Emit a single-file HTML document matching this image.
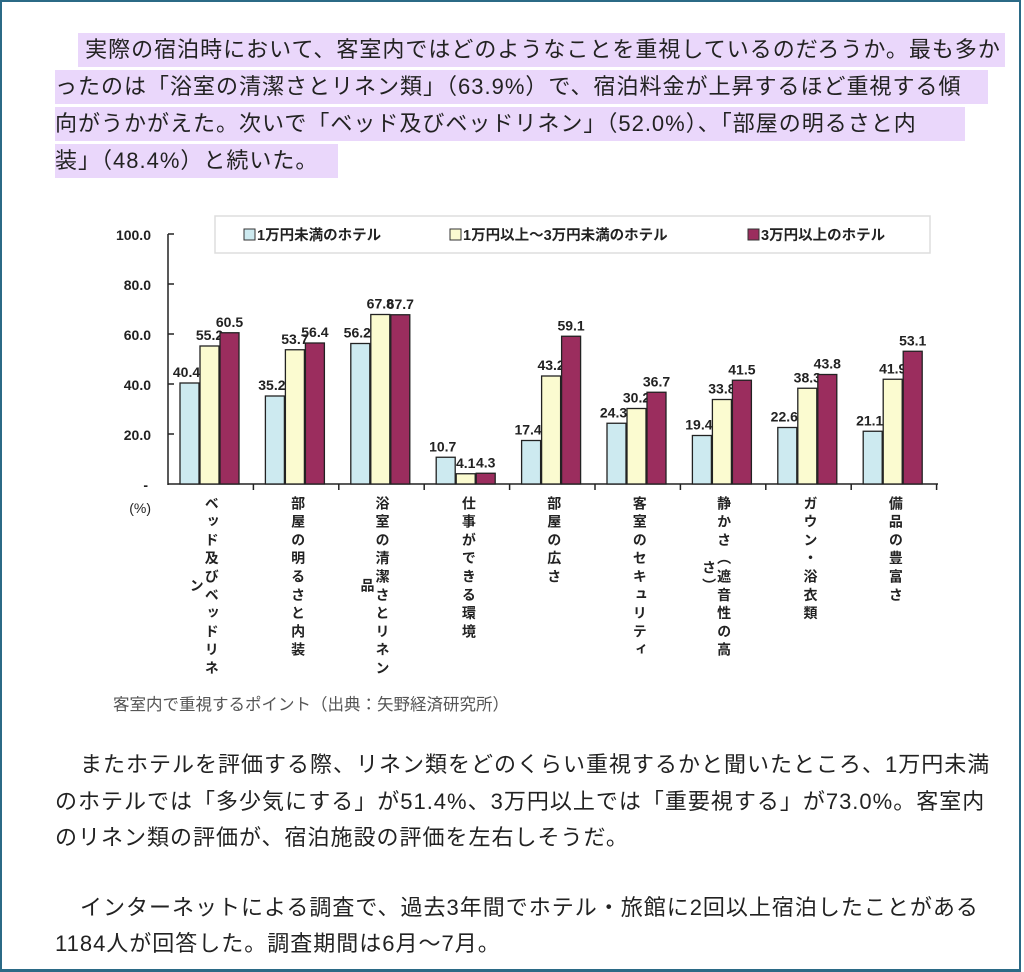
<!DOCTYPE html>
<html><head><meta charset="utf-8">
<style>
body{margin:0;width:1024px;height:972px;background:#fff;overflow:hidden;position:relative;font-family:"Liberation Sans","Noto Sans CJK JP",sans-serif;}
.frame{position:absolute;left:0;top:0;width:1017px;height:967px;border:2px solid #2b6a86;border-bottom-width:3px;}
.ln{position:absolute;font-size:22px;letter-spacing:1px;line-height:34px;height:34px;color:#222;white-space:nowrap;}
.hl{background:#ead7fb;}
.cap{position:absolute;left:113px;top:691px;font-size:16.5px;color:#555;white-space:nowrap;}
.vl{position:absolute;top:496px;writing-mode:vertical-rl;text-align:center;font-size:14px;line-height:15px;letter-spacing:4.3px;font-weight:bold;color:#222;white-space:nowrap;}
</style></head><body>
<div class="frame"></div>
<div class="ln hl" style="left:78px;top:33px;width:927px;">&nbsp;実際の宿泊時において、客室内ではどのようなことを重視しているのだろうか。最も多か</div>
<div class="ln hl" style="left:55px;top:70px;width:933px;">ったのは「浴室の清潔さとリネン類」（63.9%）で、宿泊料金が上昇するほど重視する傾</div>
<div class="ln hl" style="left:55px;top:107px;width:910px;">向がうかがえた。次いで「ベッド及びベッドリネン」（52.0%）、「部屋の明るさと内</div>
<div class="ln hl" style="left:55px;top:144px;width:283px;">装」（48.4%）と続いた。</div>

<svg style="position:absolute;left:0;top:0" width="1024" height="972" font-family="Liberation Sans, Noto Sans CJK JP, sans-serif">
<rect x="215" y="216" width="715" height="37" fill="#fff" stroke="#ddd" stroke-width="1.5"/>
<g font-size="14.5" fill="#222" font-weight="bold">
<rect x="244" y="229" width="11" height="11" fill="#cdeaf0" stroke="#333"/><text x="257" y="240">1万円未満のホテル</text>
<rect x="450" y="229" width="11" height="11" fill="#fbfbd0" stroke="#333"/><text x="463" y="240">1万円以上～3万円未満のホテル</text>
<rect x="748" y="229" width="11" height="11" fill="#9b2d5e" stroke="#333"/><text x="761" y="240">3万円以上のホテル</text>
</g>
<g font-size="14" fill="#222" text-anchor="end" font-weight="bold">
<text x="151" y="240">100.0</text><text x="151" y="290">80.0</text><text x="151" y="340">60.0</text>
<text x="151" y="390">40.0</text><text x="151" y="440">20.0</text><text x="148" y="490">-</text>
<text x="151" y="513" font-weight="normal">(%)</text>
</g>
<g stroke="#222" stroke-width="1.5">
<line x1="168" y1="234" x2="168" y2="485"/><line x1="168" y1="484" x2="938" y2="484"/>
<line x1="168" y1="234" x2="174" y2="234"/><line x1="168" y1="284" x2="174" y2="284"/>
<line x1="168" y1="334" x2="174" y2="334"/><line x1="168" y1="384" x2="174" y2="384"/>
<line x1="168" y1="434" x2="174" y2="434"/>
</g>
<g id="bars"></g>
</svg>
<div id="labels"></div>
<div class="cap">客室内で重視するポイント（出典：矢野経済研究所）</div>

<div class="ln" style="left:80px;top:748px;">またホテルを評価する際、リネン類をどのくらい重視するかと聞いたところ、1万円未満</div>
<div class="ln" style="left:55px;top:785px;">のホテルでは「多少気にする」が51.4%、3万円以上では「重要視する」が73.0%。客室内</div>
<div class="ln" style="left:55px;top:821px;">のリネン類の評価が、宿泊施設の評価を左右しそうだ。</div>
<div class="ln" style="left:80px;top:891px;">インターネットによる調査で、過去3年間でホテル・旅館に2回以上宿泊したことがある</div>
<div class="ln" style="left:55px;top:927px;">1184人が回答した。調査期間は6月～7月。</div>

<script>
var d=[[40.4,55.2,60.5],[35.2,53.7,56.4],[56.2,67.8,67.7],[10.7,4.1,4.3],[17.4,43.2,59.1],[24.3,30.2,36.7],[19.4,33.8,41.5],[22.6,38.3,43.8],[21.1,41.9,53.1]];
var lab=[["ベッド及びベッドリネ","ン"],["部屋の明るさと内装"],["浴室の清潔さとリネン","品"],["仕事ができる環境"],["部屋の広さ"],["客室のセキュリティ"],["静かさ（遮音性の高","さ）"],["ガウン・浴衣類"],["備品の豊富さ"]];
var col=["#cdeaf0","#fbfbd0","#9b2d5e"];
var s="",gw=85.4;
for(var g=0;g<9;g++){
 var x0=168+g*gw;
 s+='<line x1="'+(x0+gw)+'" y1="484" x2="'+(x0+gw)+'" y2="490" stroke="#222" stroke-width="1.5"/>';
 for(var i=0;i<3;i++){
  var v=d[g][i],h=v*2.5,x=x0+12+i*20;
  s+='<rect x="'+x+'" y="'+(484-h)+'" width="19" height="'+h+'" fill="'+col[i]+'" stroke="#222" stroke-width="1.3"/>';
  s+='<text x="'+(x+9.5+(i==0?-3:0))+'" y="'+(484-h-6)+'" font-size="14" font-weight="bold" text-anchor="middle" fill="#222">'+v.toFixed(1)+'</text>';
 }
}
document.getElementById("bars").innerHTML=s;
var L="";
for(var g=0;g<9;g++){
 var cx=168+g*gw+gw/2;
 var n=lab[g].length, w=n*15;
 var left = n==1 ? cx-7 : cx-7-16;
 L+='<div class="vl" style="left:'+left+'px;width:'+(w+1)+'px;">'+lab[g].join('<br>')+'</div>';
}
document.getElementById("labels").innerHTML=L;
</script>
</body></html>
